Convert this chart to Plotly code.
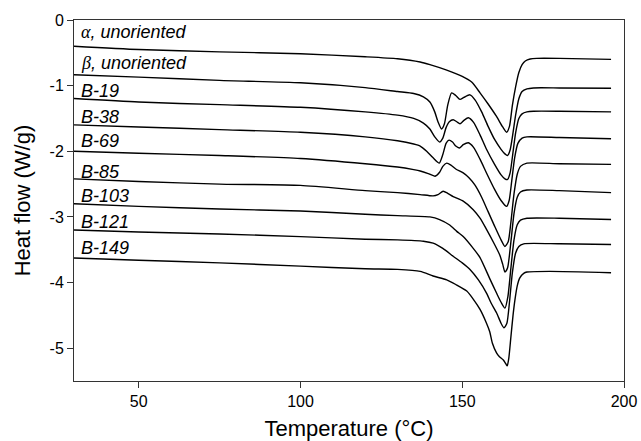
import plotly.graph_objects as go

# ---- data (temperature in °C, heat flow in W/g) ----
names = ["α, unoriented", "β, unoriented", "B-19", "B-38", "B-69", "B-85", "B-103", "B-121", "B-149"]

x_alpha = [30, 50, 75, 100, 120, 130, 137, 140, 145, 150, 153, 155.5, 158, 160.6, 162.5, 163.7, 164.6, 165.5, 166.5, 167.5, 168.5, 169.5, 171, 173, 180, 196]
y_alpha = [-0.40, -0.45, -0.485, -0.515, -0.56, -0.59, -0.64, -0.68, -0.76, -0.86, -0.95, -1.11, -1.28, -1.47, -1.63, -1.71, -1.62, -1.30, -1.02, -0.80, -0.68, -0.625, -0.595, -0.585, -0.585, -0.60]

x_beta = [30, 50, 75, 100, 120, 130, 135, 138, 140, 141.5, 142.5, 143.6, 144.5, 145.5, 146.7, 148, 149.3, 150.5, 152.4, 154, 156, 158, 160, 162, 163.2, 164, 164.8, 165.6, 166.5, 167.5, 168.5, 170, 172, 180, 196]
y_beta = [-0.835, -0.87, -0.92, -0.957, -1.03, -1.09, -1.12, -1.17, -1.25, -1.40, -1.55, -1.66, -1.58, -1.30, -1.11, -1.15, -1.21, -1.18, -1.14, -1.22, -1.40, -1.62, -1.82, -1.97, -2.04, -2.065, -1.98, -1.75, -1.45, -1.20, -1.09, -1.05, -1.035, -1.035, -1.04]

x_b19 = [30, 50, 75, 100, 120, 130, 135, 138, 140, 141.5, 143, 144, 145, 146, 147.2, 148.3, 149.3, 150.5, 151.9, 153.5, 155.5, 157.5, 160, 162, 163.2, 164, 164.8, 165.6, 166.5, 167.5, 168.5, 170, 172, 180, 196]
y_b19 = [-1.197, -1.25, -1.29, -1.33, -1.40, -1.45, -1.50, -1.57, -1.66, -1.78, -1.86, -1.80, -1.64, -1.55, -1.52, -1.55, -1.58, -1.53, -1.49, -1.56, -1.75, -1.97, -2.20, -2.36, -2.42, -2.43, -2.33, -2.05, -1.72, -1.50, -1.43, -1.40, -1.39, -1.39, -1.40]

x_b38 = [30, 50, 75, 100, 120, 130, 135, 137, 139, 141, 142.9, 144, 145, 145.9, 147, 148, 149.1, 150.3, 151.9, 153.5, 155.5, 157.5, 160, 162, 163.7, 164.5, 165.3, 166.2, 167.2, 168.5, 170, 180, 196]
y_b38 = [-1.598, -1.63, -1.67, -1.71, -1.78, -1.84, -1.89, -1.92, -2.00, -2.10, -2.18, -2.05, -1.88, -1.83, -1.86, -1.92, -1.95, -1.90, -1.87, -1.94, -2.12, -2.33, -2.58, -2.75, -2.84, -2.75, -2.45, -2.10, -1.88, -1.80, -1.78, -1.79, -1.81]

x_b69 = [30, 50, 75, 100, 120, 130, 135, 137, 139.5, 141.6, 143, 144, 145.2, 146.5, 148, 150.3, 152, 154, 156, 158, 160, 162, 163.2, 164.2, 165, 166, 167, 168, 170, 180, 196]
y_b69 = [-2.00, -2.03, -2.065, -2.11, -2.19, -2.24, -2.28, -2.30, -2.34, -2.38, -2.32, -2.23, -2.18, -2.21, -2.27, -2.33, -2.40, -2.52, -2.70, -2.92, -3.14, -3.35, -3.45, -3.38, -3.10, -2.65, -2.35, -2.23, -2.18, -2.19, -2.20]

x_b85 = [30, 50, 75, 100, 120, 130, 137, 141, 142.5, 144.1, 145.5, 147.2, 150.3, 153.4, 155.5, 157.5, 160, 161.6, 162.5, 163.2, 164, 165, 166, 167, 168, 170, 180, 196]
y_b85 = [-2.42, -2.46, -2.50, -2.52, -2.60, -2.63, -2.66, -2.68, -2.66, -2.61, -2.64, -2.69, -2.76, -2.89, -3.02, -3.19, -3.42, -3.58, -3.72, -3.84, -3.78, -3.40, -2.95, -2.70, -2.62, -2.59, -2.60, -2.63]

x_b103 = [30, 50, 75, 100, 120, 130, 140, 143, 146, 148.3, 150.3, 153.4, 155.5, 158.5, 160.6, 162, 163.2, 164.1, 165, 166, 167, 168, 170, 180, 196]
y_b103 = [-2.80, -2.84, -2.88, -2.91, -2.96, -2.98, -3.00, -3.04, -3.12, -3.22, -3.30, -3.48, -3.62, -3.94, -4.16, -4.30, -4.39, -4.22, -3.80, -3.35, -3.12, -3.05, -3.02, -3.02, -3.04]

x_b121 = [30, 50, 75, 100, 120, 130, 138, 141, 144, 147.2, 150, 152.4, 155, 157.5, 159, 160.6, 162, 162.9, 163.8, 164.6, 165.5, 166.5, 167.5, 169, 180, 196]
y_b121 = [-3.20, -3.23, -3.26, -3.30, -3.34, -3.35, -3.37, -3.40, -3.48, -3.60, -3.70, -3.80, -3.96, -4.16, -4.32, -4.46, -4.62, -4.69, -4.62, -4.30, -3.85, -3.55, -3.45, -3.41, -3.41, -3.42]

x_b149 = [30, 50, 75, 100, 120, 130, 137, 141, 145.2, 148, 151.4, 153.5, 155.5, 157.5, 158.5, 159.3, 160.6, 161.5, 162.7, 163.5, 163.9, 164.4, 165, 165.7, 166.3, 167, 167.8, 169, 170, 177, 196]
y_b149 = [-3.625, -3.66, -3.70, -3.75, -3.79, -3.80, -3.83, -3.90, -3.96, -4.03, -4.13, -4.26, -4.41, -4.62, -4.75, -4.92, -5.07, -5.13, -5.18, -5.24, -5.27, -5.15, -4.85, -4.50, -4.26, -4.05, -3.93, -3.86, -3.84, -3.83, -3.85]

series_x = [x_alpha, x_beta, x_b19, x_b38, x_b69, x_b85, x_b103, x_b121, x_b149]
series_y = [y_alpha, y_beta, y_b19, y_b38, y_b69, y_b85, y_b103, y_b121, y_b149]

# label anchor positions (data coordinates, left edge / vertical centre)
label_x = 31.5
label_y = [-0.19, -0.652, -1.085, -1.476, -1.848, -2.32, -2.685, -3.08, -3.47]

x_ticks = [50, 100, 150, 200]
y_ticks = [0, -1, -2, -3, -4, -5]

FONT = "Arial, Liberation Sans, sans-serif"

fig = go.Figure()
for nm, xs, ys in zip(names, series_x, series_y):
    fig.add_trace(go.Scatter(x=xs, y=ys, mode="lines", name=nm,
                             line=dict(color="black", width=1.4, shape="spline", smoothing=0.6),
                             showlegend=False, hoverinfo="skip"))

for nm, ly in zip(names, label_y):
    if nm[0] in "αβ":
        txt = "<i><span style='font-family:Liberation Serif, Times New Roman, serif'>" + nm[0] + "</span>" + nm[1:] + "</i>"
    else:
        txt = "<i>" + nm + "</i>"
    fig.add_annotation(x=label_x, y=ly, xref="x", yref="y", text=txt, showarrow=False,
                       xanchor="left", yanchor="middle",
                       font=dict(family=FONT, size=18, color="black"))

axis_common = dict(showline=True, linecolor="#333333", linewidth=1, mirror=True,
                   showgrid=False, zeroline=False, ticks="outside", ticklen=6,
                   tickcolor="#333333", automargin=False,
                   tickfont=dict(family=FONT, size=16, color="black"))

fig.update_xaxes(range=[30, 200], tickvals=x_ticks, ticktext=[str(v) for v in x_ticks],
                 title=dict(text="Temperature (°C)", font=dict(family=FONT, size=22, color="black"), standoff=11),
                 **axis_common)
fig.update_yaxes(range=[-5.5, 0], tickvals=y_ticks, ticktext=[str(v) for v in y_ticks],
                 title=dict(text="Heat flow (W/g)", font=dict(family=FONT, size=22, color="black"), standoff=12),
                 **axis_common)

fig.update_layout(width=641, height=441, margin=dict(l=74, r=17, t=20, b=60),
                  paper_bgcolor="white", plot_bgcolor="white", font=dict(family=FONT))

fig.write_html("out.html")
